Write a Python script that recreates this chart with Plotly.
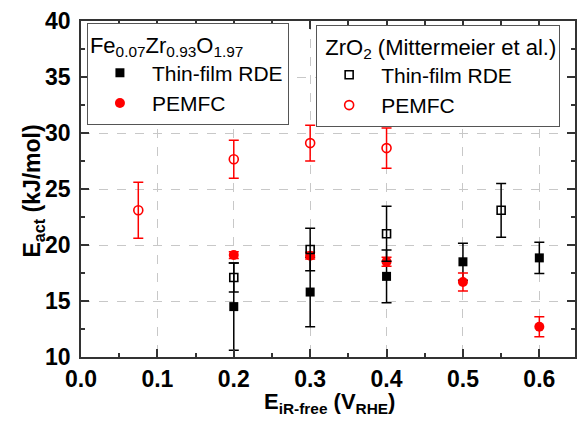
import plotly.graph_objects as go

# Fe0.07Zr0.93O1.97 – thin-film RDE
fe_rde_x = [0.2, 0.3, 0.4, 0.5, 0.6]
fe_rde_y = [14.5, 15.8, 17.2, 18.5, 18.85]
fe_rde_err = [3.9, 3.1, 2.35, 1.65, 1.4]

# Fe0.07Zr0.93O1.97 – PEMFC
fe_fc_x = [0.2, 0.3, 0.4, 0.5, 0.6]
fe_fc_y = [19.1, 19.05, 18.5, 16.7, 12.7]
fe_fc_err = [0.3, 0.3, 0.4, 0.8, 0.9]

# ZrO2 (Mittermeier et al.) – thin-film RDE
zr_rde_x = [0.2, 0.3, 0.4, 0.55]
zr_rde_y = [17.1, 19.6, 21.0, 23.1]
zr_rde_err = [1.3, 1.9, 2.45, 2.4]

# ZrO2 (Mittermeier et al.) – PEMFC
zr_fc_x = [0.075, 0.2, 0.3, 0.4]
zr_fc_y = [23.1, 27.65, 29.1, 28.65]
zr_fc_err = [2.5, 1.7, 1.6, 1.8]

x_ticks = [0.0, 0.1, 0.2, 0.3, 0.4, 0.5, 0.6]
y_ticks = [10, 15, 20, 25, 30, 35, 40]

x_title = "E<sub>iR-free</sub> (V<sub>RHE</sub>)"
y_title = "E<sub>act</sub> (kJ/mol)"

FONT = "Arial, Liberation Sans, sans-serif"
RED = "#ff0000"
BLACK = "#000000"


def err(vals, color):
    return dict(type="data", array=vals, visible=True, color=color,
                thickness=1.5, width=5)


fig = go.Figure()

fig.add_trace(go.Scatter(
    x=fe_rde_x, y=fe_rde_y, mode="markers", name="Thin-film RDE",
    marker=dict(symbol="square", size=9, color=BLACK),
    error_y=err(fe_rde_err, BLACK), legend="legend"))

fig.add_trace(go.Scatter(
    x=fe_fc_x, y=fe_fc_y, mode="markers", name="PEMFC",
    marker=dict(symbol="circle", size=10, color=RED),
    error_y=err(fe_fc_err, RED), legend="legend"))

fig.add_trace(go.Scatter(
    x=zr_rde_x, y=zr_rde_y, mode="markers", name="Thin-film RDE",
    marker=dict(symbol="square-open", size=8, color=BLACK,
                line=dict(width=1.6, color=BLACK)),
    error_y=err(zr_rde_err, BLACK), legend="legend2"))

fig.add_trace(go.Scatter(
    x=zr_fc_x, y=zr_fc_y, mode="markers", name="PEMFC",
    marker=dict(symbol="circle-open", size=9, color=RED,
                line=dict(width=1.6, color=RED)),
    error_y=err(zr_fc_err, RED), legend="legend2"))

axis_common = dict(
    showline=True, linecolor="#333333", linewidth=1.5, mirror="ticks",
    ticks="inside", ticklen=8, tickwidth=1.5, tickcolor="#333333",
    showgrid=True, gridcolor="#c8c8c8", griddash="dash", gridwidth=1,
    zeroline=False,
    tickfont=dict(family=FONT, size=23, color=BLACK, weight="bold"),
)

fig.update_xaxes(
    **axis_common,
    range=[0, 0.6467], tickvals=x_ticks,
    ticktext=[f"{v:.1f}" for v in x_ticks],
    minor=dict(ticks="inside", ticklen=4, dtick=0.05, tick0=0,
               tickcolor="#333333", tickwidth=1.5, showgrid=False),
    ticklabelstandoff=1,
)

fig.update_yaxes(
    **axis_common,
    range=[10, 40], tickvals=y_ticks,
    minor=dict(ticks="inside", ticklen=4, dtick=2.5, tick0=10,
               tickcolor="#333333", tickwidth=1.5, showgrid=False),
    ticklabelstandoff=4,
)

# axis titles placed as annotations for tighter control of their position
title_font = dict(family=FONT, size=22, color=BLACK, weight="bold")
fig.add_annotation(text=x_title, xref="paper", yref="paper", x=0.504, y=0,
                   xanchor="center", yanchor="middle", yshift=-46,
                   showarrow=False, font=title_font)
fig.add_annotation(text=y_title, xref="paper", yref="paper", x=0, y=0.494,
                   xanchor="right", yanchor="middle", xshift=-31,
                   textangle=-90, showarrow=False,
                   font=dict(title_font, size=23))

legend_common = dict(
    bgcolor="white", bordercolor="#555555", borderwidth=1,
    font=dict(family=FONT, size=21, color=BLACK),
    itemwidth=54, tracegroupgap=0,
    xanchor="left", yanchor="top",
)

fig.update_layout(
    width=577, height=436,
    margin=dict(l=81, r=0, t=21, b=79),
    paper_bgcolor="white", plot_bgcolor="white",
    showlegend=True,
    legend=dict(
        **legend_common, x=0.012, y=0.994,
        title=dict(text="Fe<sub>0.07</sub>Zr<sub>0.93</sub>O<sub>1.97</sub>",
                   font=dict(family=FONT, size=22, color=BLACK)),
    ),
    legend2=dict(
        **legend_common, x=0.476, y=0.988,
        title=dict(text="&nbsp;ZrO<sub>2</sub> (Mittermeier et al.)",
                   font=dict(family=FONT, size=22, color=BLACK)),
    ),
)

fig.write_html("out.html")
